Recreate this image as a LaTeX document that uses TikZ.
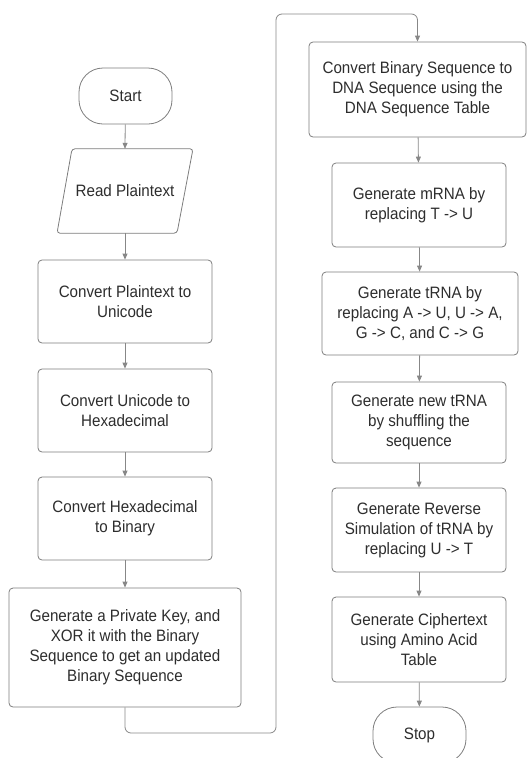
\documentclass[tikz,border=0pt]{standalone}
\usepackage{fontspec}
\setmainfont{Liberation Sans}[FakeStretch=0.92]
\usetikzlibrary{arrows.meta}
\definecolor{edgec}{RGB}{125,125,125}
\definecolor{connc}{RGB}{135,135,135}
\definecolor{txtc}{RGB}{45,45,45}
\begin{document}
\begin{tikzpicture}[x=1pt,y=-1pt,
  every node/.style={font=\fontsize{16.5}{20}\selectfont, text=txtc, align=center, inner sep=0pt},
  proc/.style={draw=edgec, line width=0.8pt, rounded corners=4pt, minimum width=174pt, minimum height=83pt},
  term/.style={draw=edgec, line width=0.8pt, rounded corners=24pt, minimum width=93pt, minimum height=56pt},
  conn/.style={draw=connc, line width=0.8pt, -{Triangle[length=6pt,width=5pt]}},
  plainconn/.style={draw=connc, line width=0.8pt}
]
\useasboundingbox (0,0) rectangle (527,758);
% left column
\node[term] (start) at (125.5,96) {Start};
\node[minimum width=120pt, minimum height=84pt] (read) at (125,191) {Read Plaintext};
\draw[draw=edgec, line width=0.8pt, rounded corners=3pt]
  ([xshift=-53pt]read.north) -- ([xshift=68pt]read.north)
  -- ([xshift=52pt]read.south) -- ([xshift=-68pt]read.south) -- cycle;
\node[proc] (b1) at (125,301.5) {Convert Plaintext to\\Unicode};
\node[proc] (b2) at (125,410.5) {Convert Unicode to\\Hexadecimal};
\node[proc] (b3) at (125,518.5) {Convert Hexadecimal\\to Binary};
\node[proc, minimum width=232pt, minimum height=119pt] (b4) at (125,647.5)
  {Generate a Private Key, and\\XOR it with the Binary\\Sequence to get an updated\\Binary Sequence};
% right column
\node[proc, minimum width=217pt, minimum height=95pt] (r1) at (417.5,89.5)
  {Convert Binary Sequence to\\DNA Sequence using the\\DNA Sequence Table};
\node[proc, minimum height=84pt] (r2) at (419,205) {Generate mRNA by\\replacing T -> U};
\node[proc, minimum width=196pt] (r3) at (420,313.5) {Generate tRNA by\\replacing A -> U, U -> A,\\G -> C, and C -> G};
\node[proc, minimum height=81pt] (r4) at (419,422.5) {Generate new tRNA\\by shuffling the\\sequence};
\node[proc, minimum height=84pt] (r5) at (419,530) {Generate Reverse\\Simulation of tRNA by\\replacing U -> T};
\node[proc, minimum height=85pt] (r6) at (419,639.5) {Generate Ciphertext\\using Amino Acid\\Table};
\node[term] (stop) at (419.5,735) {Stop};
% connectors
\draw[conn] (start) -- (read.north);
\draw[conn] (read.south) -- (b1);
\draw[conn] (b1) -- (b2);
\draw[conn] (b2) -- (b3);
\draw[conn] (b3) -- (b4);
\coordinate (c1) at (276,733);
\coordinate (c2) at (276,14);
\draw[conn, rounded corners=6pt] (b4.south) |- (c1) -- (c2) -| (r1.north);
\draw[conn] (r1) -- (r2);
\draw[conn] (r2) -- (r3);
\draw[conn] (r3) -- (r4);
\draw[conn] (r4) -- (r5);
\draw[conn] (r5) -- (r6);
\draw[conn] (r6) -- (stop);
\end{tikzpicture}
\end{document}
